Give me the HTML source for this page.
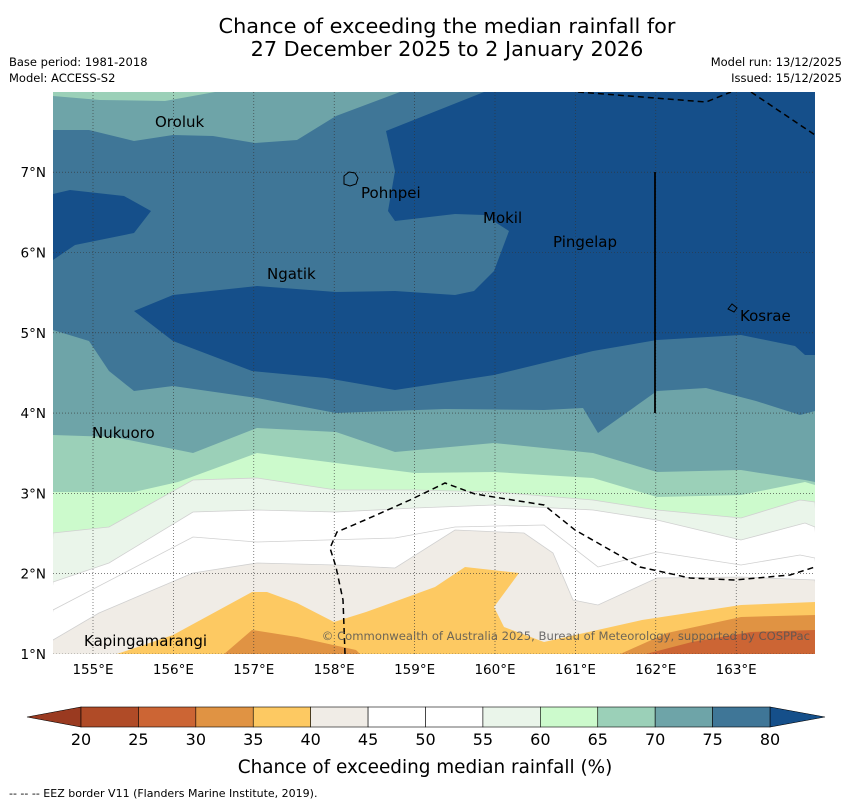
<!DOCTYPE html>
<html><head><meta charset="utf-8">
<style>
body{margin:0;background:#fff;width:850px;height:804px;overflow:hidden;font-family:"DejaVu Sans","Liberation Sans",sans-serif;}
svg text{font-family:"DejaVu Sans","Liberation Sans",sans-serif;}
</style></head>
<body>
<svg id="c" width="850" height="804" viewBox="0 0 850 804" xmlns="http://www.w3.org/2000/svg">
<text x="447" y="33" font-size="20.8" text-anchor="middle">Chance of exceeding the median rainfall for</text>
<text x="447" y="56" font-size="20.8" text-anchor="middle">27 December 2025 to 2 January 2026</text>
<text x="9" y="66" font-size="11.5">Base period: 1981-2018</text>
<text x="9" y="82" font-size="11.5">Model: ACCESS-S2</text>
<text x="842" y="66" font-size="11.5" text-anchor="end">Model run: 13/12/2025</text>
<text x="842" y="82" font-size="11.5" text-anchor="end">Issued: 15/12/2025</text>
<defs><clipPath id="pc"><rect x="53" y="92" width="762" height="562"/></clipPath></defs>
<g id="map" clip-path="url(#pc)"></g>
<g id="over"></g>
<g id="cb"></g>
<text x="425" y="773" font-size="18.4" text-anchor="middle">Chance of exceeding median rainfall (%)</text>
<text x="9" y="797" font-size="11">--  --  -- EEZ border V11 (Flanders Marine Institute, 2019).</text>
</svg>
<script>
const NS='http://www.w3.org/2000/svg';
const levels=[20,25,30,35,40,45,50,55,60,65,70,75,80];
const bandColors=['#b04b27','#cc6534','#e09343','#fdc962','#f0ece6','#ffffff','#ffffff','#eaf5ea','#ccfacc','#9bd0b8','#6ea4a8','#3f7697'];
const lonTicks=[155,156,157,158,159,160,161,162,163];
const latTicks=[1,2,3,4,5,6,7];
function X(lon){return 93+(lon-155)*80.4;}
function Y(lat){return 654-(lat-1)*80.3;}
function L(x){return 155+(x-93)/80.4;}
function B(y){return 1+(654-y)/80.3;}
function P(a){const r=[];for(let i=0;i<a.length;i+=2)r.push([L(a[i]),B(a[i+1])]);return r;}
const placeNames=['Oroluk','Pohnpei','Mokil','Pingelap','Ngatik','Kosrae','Nukuoro','Kapingamarangi'];
const placePos=P([155,127,361,198,483,223,553,247,267,279,740,321,92,438,84,646]);
const below70top=P([53,92,53,130,89,130,134,141,173,135,213,136,255,143,297,140,336,116,400,92]);
const above80main=P([484,92,386,131,395,171,388,211,395,221,455,214,484,215,509,231,494,271,474,291,455,295,395,291,336,292,257,286,173,295,134,311,173,341,252,371,326,378,395,390,494,375,593,351,657,340,741,335,795,346,805,355,815,355,815,92]);
const above80left=P([53,194,70,190,124,196,151,211,134,233,75,245,53,260]);
const top65=P([53,92,53,96,100,100,165,101,215,92]);
const b75=P([53,330,89,341,109,371,134,391,173,386,257,398,336,413,445,409,544,410,583,408,598,433,657,391,706,388,756,401,800,415,815,411]);
const b70=P([53,435,114,437,193,453,257,428,336,432,395,452,494,443,593,453,657,472,741,470,805,480,815,482]);
const b65=P([53,492,134,492,178,482,257,453,336,463,415,473,494,472,593,478,657,497,741,495,805,482,815,485]);
const b60=P([53,533,109,527,193,480,257,478,336,490,415,490,494,492,593,500,657,510,741,518,800,500,815,502]);
const b55=P([53,582,109,563,193,512,257,510,336,512,415,508,494,505,593,510,657,520,741,540,805,523,815,527]);
const b50=P([53,610,193,537,257,542,395,538,455,527,544,525,598,567,657,552,741,565,800,555,815,558]);
const b45=P([53,640,99,613,193,573,257,563,336,565,395,568,455,530,524,533,553,553,573,600,598,605,657,578,741,577,815,580]);
const b40=P([53,660,114,655,173,635,252,592,267,592,297,603,334,622,366,612,435,587,465,567,519,573,494,607,504,627,544,642,642,620,741,605,815,602,815,660]);
const b35a=P([223,660,223,655,252,630,297,637,356,650,366,660]);
const b35b=P([618,660,618,655,667,633,741,617,815,615,815,660]);
const b30=P([642,660,642,655,692,642,751,632,815,630,815,660]);
const eezTop1=P([578,92,706,102,731,92]);
const eezTop2=P([751,92,815,135]);
const eezBot=P([345,654,343,600,336,567,330,548,337,532,365,520,410,500,445,483,475,494,544,505,575,530,640,567,690,578,735,580,790,575,815,567]);
const border=P([655,172,655,413]);

const map=document.getElementById('map'),over=document.getElementById('over'),cb=document.getElementById('cb');
function el(tag,attrs,parent){const e=document.createElementNS(NS,tag);for(const k in attrs)e.setAttribute(k,attrs[k]);parent.appendChild(e);return e;}
function pts(a){return a.map(p=>X(p[0]).toFixed(1)+','+Y(p[1]).toFixed(1)).join(' ');}
function lowerArea(a){return pts(a)+' '+X(164.1).toFixed(1)+',660 '+X(154.4).toFixed(1)+',660';}

let r=el('rect',{x:53,y:92,width:762,height:562,fill:bandColors[11]},map);


let p=el('polygon',{points:pts(below70top),fill:bandColors[10]},map);


p=el('polygon',{points:pts(top65),fill:bandColors[9]},map);


p=el('polygon',{points:pts(above80main),fill:'#154f8a'},map);


p=el('polygon',{points:pts(above80left),fill:'#154f8a'},map);


const lowers=[[b75,10,'band-70-75'],[b70,9,'band-65-70'],[b65,8,'band-60-65'],[b60,7,'band-55-60'],[b55,6,'band-50-55'],[b50,5,'band-45-50'],[b45,4,'band-40-45']];
lowers.forEach(([a,ci,nm])=>{
  const q=el('polygon',{points:lowerArea(a),fill:bandColors[ci],stroke:ci<=7?'#d0d0d0':'none','stroke-width':0.8},map);
  
  
});
[[b40,3,'band-35-40'],[b35a,2,'band-30-35-west'],[b35b,2,'band-30-35-east'],[b30,1,'band-25-30']].forEach(([a,ci,nm])=>{
  const q=el('polygon',{points:pts(a),fill:bandColors[ci]},map);
  
  
});
lonTicks.forEach(lon=>{
  const g=el('line',{x1:X(lon),x2:X(lon),y1:92,y2:654,stroke:'#333','stroke-width':0.6,'stroke-dasharray':'1,2'},map);
  
  
  const t=el('text',{x:X(lon),y:674,'font-size':13.5,'text-anchor':'middle'},over);
  t.textContent=lon+'°E';
  
  
});
latTicks.forEach(lat=>{
  const g=el('line',{x1:53,x2:815,y1:Y(lat),y2:Y(lat),stroke:'#333','stroke-width':0.6,'stroke-dasharray':'1,2'},map);
  
  
  const t=el('text',{x:46,y:Y(lat)+5,'font-size':13.5,'text-anchor':'end'},over);
  t.textContent=lat+'°N';
  
  
});
[eezTop1,eezTop2,eezBot].forEach(a=>{
  const q=el('polyline',{points:pts(a),fill:'none',stroke:'#000','stroke-width':1.5,'stroke-dasharray':'6,4'},map);
  
  
});
let bl=el('polyline',{points:pts(border),fill:'none',stroke:'#000','stroke-width':1.8},map);


let isl=el('path',{d:'M344,176 l5,-4 l6,1 l3,5 l-2,6 l-6,2 l-6,-2 z',fill:'none',stroke:'#000','stroke-width':1},map);


isl=el('path',{d:'M728,309 l4,-5 l5,4 l-3,4 z',fill:'none',stroke:'#000','stroke-width':1},map);


placeNames.forEach((n,i)=>{
  const t=el('text',{x:X(placePos[i][0]),y:Y(placePos[i][1]),'font-size':15},map);
  t.textContent=n;
  
  
});
let cp=el('text',{x:810,y:640,'font-size':11.6,'text-anchor':'end',fill:'#555','fill-opacity':0.85},map);
cp.textContent='© Commonwealth of Australia 2025, Bureau of Meteorology, supported by COSPPac';


const cbX0=81,cbX1=770,cbY=707,cbH=20;
const segW=(cbX1-cbX0)/(levels.length-1);
let tri=el('polygon',{points:`${cbX0},${cbY} ${cbX0},${cbY+cbH} 27,${cbY+cbH/2}`,fill:'#9a3a20',stroke:'#000','stroke-width':0.6},cb);


tri=el('polygon',{points:`${cbX1},${cbY} ${cbX1},${cbY+cbH} 825,${cbY+cbH/2}`,fill:'#154f8a',stroke:'#000','stroke-width':0.6},cb);


bandColors.forEach((c,i)=>{
  const s=el('rect',{x:cbX0+i*segW,y:cbY,width:segW,height:cbH,fill:c,stroke:'#000','stroke-width':0.6},cb);
  
  
});
levels.forEach((v,i)=>{
  const t=el('text',{x:cbX0+i*segW,y:745,'font-size':16,'text-anchor':'middle'},cb);
  t.textContent=v;
  
  
});
</script>
</body></html>
